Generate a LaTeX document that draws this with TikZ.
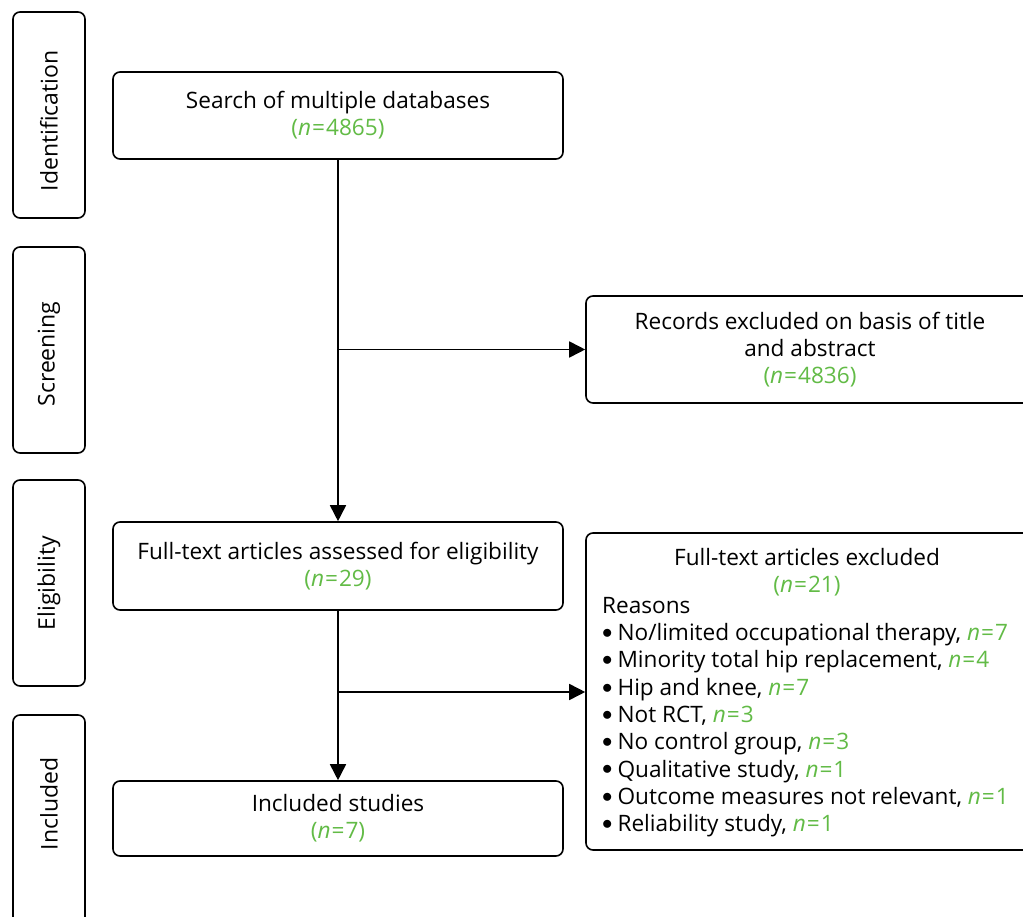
\documentclass[tikz,border=0pt]{standalone}
\usepackage{fontspec}
\setmainfont{Open Sans}
\usetikzlibrary{arrows.meta}
\definecolor{ngreen}{RGB}{98,187,70}
\newcommand{\ncount}[1]{\textcolor{ngreen}{\textit{n}\kern1pt=\kern1pt#1}}
\newcommand{\ncountp}[1]{\textcolor{ngreen}{(\ncount{#1})}}
\newcommand{\itembullet}{\raisebox{2.2pt}{$\bullet$}\kern5pt}
\tikzset{
  frame/.style={draw=black, line width=1.6pt, rounded corners=7pt},
  stepbox/.style={frame, minimum width=450pt, align=center, inner sep=0pt,
    font=\fontsize{22.6}{27}\selectfont},
  stagebox/.style={frame, minimum width=72pt, minimum height=206pt},
  stagelabel/.style={rotate=90, font=\fontsize{23}{24}\selectfont},
  sidetext/.style={font=\fontsize{22.6}{27.3}\selectfont, inner sep=0pt},
  flow/.style={line width=1.7pt, -{Triangle[length=16pt,width=16pt]}}
}
\begin{document}
\begin{tikzpicture}[x=1pt,y=1pt]
\clip (0,0) rectangle (1023,-917);
\fill[white] (0,0) rectangle (1023,-917);

% stage boxes on the left
\node[stagebox] (ident) at (49,-115) {};
\node[stagelabel] (identl) at (49,-121) {Identification};
\node[stagebox] (screen) at (49,-350) {};
\node[stagelabel] (screenl) at (49,-354) {Screening};
\node[stagebox] (elig) at (49,-583) {};
\node[stagelabel] (eligl) at (49,-583) {Eligibility};
\node[stagebox, minimum height=240pt] (incl) at (49,-835) {};
\node[stagelabel] (incll) at (49,-804) {Included};

% main column
\node[stepbox, minimum height=87pt] (search) at (338,-115.5)
  {Search of multiple databases\\\ncountp{4865}};
\node[stepbox, minimum height=88pt] (full) at (338,-566)
  {Full-text articles assessed for eligibility\\\ncountp{29}};
\node[stepbox, minimum height=75pt] (incstud) at (338,-818.5)
  {Included studies\\\ncountp{7}};

% exclusion boxes on the right
\node[stepbox, minimum width=448pt, minimum height=107pt] (recex) at (810,-349.5)
  {Records excluded on basis of title\\and abstract\\\ncountp{4836}};
\node[frame, minimum width=448pt, minimum height=317pt] (ftex) at (810,-691.5) {};
\node[sidetext, align=center] (ftexhead) at (807,-572)
  {Full-text articles excluded\\\ncountp{21}};
\node[sidetext, anchor=north west, align=left] (ftexlist) at (602,-597)
  {Reasons\\
   \itembullet No/limited occupational therapy, \ncount{7}\\
   \itembullet Minority total hip replacement, \ncount{4}\\
   \itembullet Hip and knee, \ncount{7}\\
   \itembullet Not RCT, \ncount{3}\\
   \itembullet No control group, \ncount{3}\\
   \itembullet Qualitative study, \ncount{1}\\
   \itembullet Outcome measures not relevant, \ncount{1}\\
   \itembullet Reliability study, \ncount{1}};

% connectors
\coordinate (j1) at (search.south |- recex.west);
\coordinate (j2) at (338,-692);
\draw[flow] (search.south) -- (full.north);
\draw[flow] (j1) -- (recex.west);
\draw[flow] (full.south) -- (incstud.north);
\draw[flow] (j2) -- (j2 -| ftex.west);
\end{tikzpicture}
\end{document}
